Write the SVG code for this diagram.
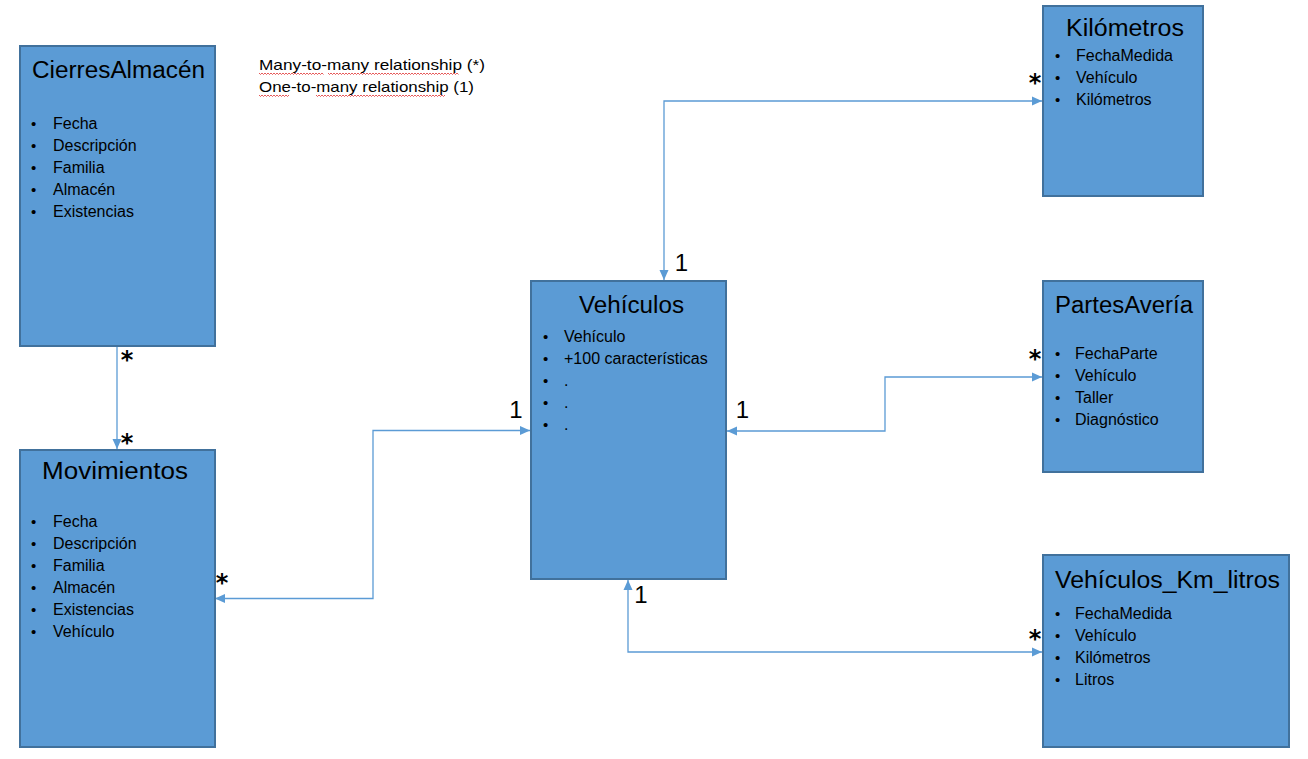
<svg xmlns="http://www.w3.org/2000/svg" width="1308" height="759" viewBox="0 0 1308 759">
<style>
.box{fill:#5B9BD5;stroke:#41719C;stroke-width:2}
.title{font-family:"Liberation Sans",Arial,sans-serif;font-size:23px;fill:#000}
.item{font-family:"Liberation Sans",Arial,sans-serif;font-size:16px;fill:#000}
.bul{font-family:"Liberation Sans",Arial,sans-serif;font-size:15px;fill:#000}
.leg{font-family:"Liberation Sans",Arial,sans-serif;font-size:15px;fill:#000}
.one{font-family:"Liberation Sans",Arial,sans-serif;font-size:24px;fill:#000}
.star{font-family:"DejaVu Sans",sans-serif;font-size:24px;font-weight:bold;fill:#000}
.conn{fill:none;stroke:#5B9BD5;stroke-width:1.3}
.wave{fill:none;stroke:#E03030;stroke-width:0.8}
</style>
<defs>
<marker id="arr" viewBox="0 0 10 10" refX="10" refY="5" markerWidth="10" markerHeight="10" markerUnits="userSpaceOnUse" orient="auto-start-reverse">
<path d="M0,0.5 L10,5 L0,9.5 Z" fill="#5B9BD5"/>
</marker>
</defs>

<g id="legend">
<text class="leg" x="259" y="70" textLength="226" lengthAdjust="spacingAndGlyphs">Many-to-many relationship (*)</text>
<text class="leg" x="259" y="92" textLength="215" lengthAdjust="spacingAndGlyphs">One-to-many relationship (1)</text>
<path class="wave" d="M259,73 l1.5,1.5 l1.5,-1.5 l1.5,1.5 l1.5,-1.5 l1.5,1.5 l1.5,-1.5 l1.5,1.5 l1.5,-1.5 l1.5,1.5 l1.5,-1.5 l1.5,1.5 l1.5,-1.5 l1.5,1.5 l1.5,-1.5 l1.5,1.5 l1.5,-1.5 l1.5,1.5 l1.5,-1.5 l1.5,1.5 l1.5,-1.5 l1.5,1.5 l1.5,-1.5 l1.5,1.5 l1.5,-1.5 l1.5,1.5 l1.5,-1.5 l1.5,1.5 l1.5,-1.5 l1.5,1.5 l1.5,-1.5 l1.5,1.5 l1.5,-1.5 l1.5,1.5 l1.5,-1.5 l1.5,1.5 l1.5,-1.5 l1.5,1.5 l1.5,-1.5 l1.5,1.5 l1.5,-1.5 l1.5,1.5 l1.5,-1.5 l1.5,1.5"/>
<path class="wave" d="M328,73 l1.5,1.5 l1.5,-1.5 l1.5,1.5 l1.5,-1.5 l1.5,1.5 l1.5,-1.5 l1.5,1.5 l1.5,-1.5 l1.5,1.5 l1.5,-1.5 l1.5,1.5 l1.5,-1.5 l1.5,1.5 l1.5,-1.5 l1.5,1.5 l1.5,-1.5 l1.5,1.5 l1.5,-1.5 l1.5,1.5 l1.5,-1.5 l1.5,1.5 l1.5,-1.5 l1.5,1.5 l1.5,-1.5 l1.5,1.5 l1.5,-1.5 l1.5,1.5 l1.5,-1.5 l1.5,1.5 l1.5,-1.5 l1.5,1.5 l1.5,-1.5 l1.5,1.5 l1.5,-1.5 l1.5,1.5 l1.5,-1.5 l1.5,1.5 l1.5,-1.5 l1.5,1.5 l1.5,-1.5 l1.5,1.5 l1.5,-1.5 l1.5,1.5 l1.5,-1.5 l1.5,1.5 l1.5,-1.5 l1.5,1.5 l1.5,-1.5 l1.5,1.5 l1.5,-1.5 l1.5,1.5 l1.5,-1.5 l1.5,1.5 l1.5,-1.5 l1.5,1.5 l1.5,-1.5 l1.5,1.5 l1.5,-1.5 l1.5,1.5 l1.5,-1.5 l1.5,1.5 l1.5,-1.5 l1.5,1.5 l1.5,-1.5 l1.5,1.5 l1.5,-1.5 l1.5,1.5 l1.5,-1.5 l1.5,1.5 l1.5,-1.5 l1.5,1.5 l1.5,-1.5 l1.5,1.5 l1.5,-1.5 l1.5,1.5 l1.5,-1.5 l1.5,1.5 l1.5,-1.5 l1.5,1.5 l1.5,-1.5 l1.5,1.5 l1.5,-1.5 l1.5,1.5 l1.5,-1.5 l1.5,1.5 l1.5,-1.5 l1.5,1.5"/>
<path class="wave" d="M259,95 l1.5,1.5 l1.5,-1.5 l1.5,1.5 l1.5,-1.5 l1.5,1.5 l1.5,-1.5 l1.5,1.5 l1.5,-1.5 l1.5,1.5 l1.5,-1.5 l1.5,1.5 l1.5,-1.5 l1.5,1.5 l1.5,-1.5 l1.5,1.5 l1.5,-1.5 l1.5,1.5 l1.5,-1.5 l1.5,1.5 l1.5,-1.5"/>
<path class="wave" d="M316,95 l1.5,1.5 l1.5,-1.5 l1.5,1.5 l1.5,-1.5 l1.5,1.5 l1.5,-1.5 l1.5,1.5 l1.5,-1.5 l1.5,1.5 l1.5,-1.5 l1.5,1.5 l1.5,-1.5 l1.5,1.5 l1.5,-1.5 l1.5,1.5 l1.5,-1.5 l1.5,1.5 l1.5,-1.5 l1.5,1.5 l1.5,-1.5 l1.5,1.5 l1.5,-1.5 l1.5,1.5 l1.5,-1.5 l1.5,1.5 l1.5,-1.5 l1.5,1.5 l1.5,-1.5 l1.5,1.5 l1.5,-1.5 l1.5,1.5 l1.5,-1.5 l1.5,1.5 l1.5,-1.5 l1.5,1.5 l1.5,-1.5 l1.5,1.5 l1.5,-1.5 l1.5,1.5 l1.5,-1.5 l1.5,1.5 l1.5,-1.5 l1.5,1.5 l1.5,-1.5 l1.5,1.5 l1.5,-1.5 l1.5,1.5 l1.5,-1.5 l1.5,1.5 l1.5,-1.5 l1.5,1.5 l1.5,-1.5 l1.5,1.5 l1.5,-1.5 l1.5,1.5 l1.5,-1.5 l1.5,1.5 l1.5,-1.5 l1.5,1.5 l1.5,-1.5 l1.5,1.5 l1.5,-1.5 l1.5,1.5 l1.5,-1.5 l1.5,1.5 l1.5,-1.5 l1.5,1.5 l1.5,-1.5 l1.5,1.5 l1.5,-1.5 l1.5,1.5 l1.5,-1.5 l1.5,1.5 l1.5,-1.5 l1.5,1.5 l1.5,-1.5 l1.5,1.5 l1.5,-1.5 l1.5,1.5 l1.5,-1.5 l1.5,1.5 l1.5,-1.5 l1.5,1.5 l1.5,-1.5 l1.5,1.5 l1.5,-1.5"/>
</g>

<g id="connectors">
<path class="conn" d="M117,346 V449" marker-end="url(#arr)"/>
<path class="conn" d="M215,598.5 H373 V430.5 H530" marker-start="url(#arr)" marker-end="url(#arr)"/>
<path class="conn" d="M664,280 V101 H1042" marker-start="url(#arr)" marker-end="url(#arr)"/>
<path class="conn" d="M727,431 H885 V377 H1042" marker-start="url(#arr)" marker-end="url(#arr)"/>
<path class="conn" d="M628,580 V652 H1042" marker-start="url(#arr)" marker-end="url(#arr)"/>
</g>

<g id="labels">
<text class="star" x="127" y="368" text-anchor="middle">*</text>
<text class="star" x="127" y="451" text-anchor="middle">*</text>
<text class="star" x="222" y="591" text-anchor="middle">*</text>
<text class="star" x="1035" y="91" text-anchor="middle">*</text>
<text class="star" x="1035" y="367" text-anchor="middle">*</text>
<text class="star" x="1035" y="647" text-anchor="middle">*</text>
<text class="one" x="681.5" y="271" text-anchor="middle">1</text>
<text class="one" x="516" y="418" text-anchor="middle">1</text>
<text class="one" x="742.5" y="418" text-anchor="middle">1</text>
<text class="one" x="641" y="603" text-anchor="middle">1</text>
</g>

<g id="CierresAlmacen">
<rect class="box" x="20" y="46" width="195" height="300"/>
<text class="title" x="32" y="78" textLength="173" lengthAdjust="spacingAndGlyphs">CierresAlmacén</text>
<text class="bul" x="31" y="129">•</text><text class="item" x="53" y="129">Fecha</text>
<text class="bul" x="31" y="151">•</text><text class="item" x="53" y="151">Descripción</text>
<text class="bul" x="31" y="173">•</text><text class="item" x="53" y="173">Familia</text>
<text class="bul" x="31" y="195">•</text><text class="item" x="53" y="195">Almacén</text>
<text class="bul" x="31" y="217">•</text><text class="item" x="53" y="217">Existencias</text>
</g>

<g id="Movimientos">
<rect class="box" x="20" y="450" width="195" height="297"/>
<text class="title" x="42" y="479" textLength="146" lengthAdjust="spacingAndGlyphs">Movimientos</text>
<text class="bul" x="31" y="527">•</text><text class="item" x="53" y="527">Fecha</text>
<text class="bul" x="31" y="549">•</text><text class="item" x="53" y="549">Descripción</text>
<text class="bul" x="31" y="571">•</text><text class="item" x="53" y="571">Familia</text>
<text class="bul" x="31" y="593">•</text><text class="item" x="53" y="593">Almacén</text>
<text class="bul" x="31" y="615">•</text><text class="item" x="53" y="615">Existencias</text>
<text class="bul" x="31" y="637">•</text><text class="item" x="53" y="637">Vehículo</text>
</g>

<g id="Vehiculos">
<rect class="box" x="531" y="281" width="195" height="298"/>
<text class="title" x="579" y="313" textLength="105" lengthAdjust="spacingAndGlyphs">Vehículos</text>
<text class="bul" x="543" y="342">•</text><text class="item" x="564" y="342">Vehículo</text>
<text class="bul" x="543" y="364">•</text><text class="item" x="564" y="364">+100 características</text>
<text class="bul" x="543" y="386">•</text><text class="item" x="564" y="386">.</text>
<text class="bul" x="543" y="408">•</text><text class="item" x="564" y="408">.</text>
<text class="bul" x="543" y="430">•</text><text class="item" x="564" y="430">.</text>
</g>

<g id="Kilometros">
<rect class="box" x="1043" y="6" width="160" height="190"/>
<text class="title" x="1066" y="36" textLength="118" lengthAdjust="spacingAndGlyphs">Kilómetros</text>
<text class="bul" x="1055" y="61">•</text><text class="item" x="1076" y="61">FechaMedida</text>
<text class="bul" x="1055" y="83">•</text><text class="item" x="1076" y="83">Vehículo</text>
<text class="bul" x="1055" y="105">•</text><text class="item" x="1076" y="105">Kilómetros</text>
</g>

<g id="PartesAveria">
<rect class="box" x="1043" y="281" width="160" height="191"/>
<text class="title" x="1055" y="313" textLength="138" lengthAdjust="spacingAndGlyphs">PartesAvería</text>
<text class="bul" x="1055" y="359">•</text><text class="item" x="1075" y="359">FechaParte</text>
<text class="bul" x="1055" y="381">•</text><text class="item" x="1075" y="381">Vehículo</text>
<text class="bul" x="1055" y="403">•</text><text class="item" x="1075" y="403">Taller</text>
<text class="bul" x="1055" y="425">•</text><text class="item" x="1075" y="425">Diagnóstico</text>
</g>

<g id="Vehiculos_Km_litros">
<rect class="box" x="1043" y="555" width="246" height="192"/>
<text class="title" x="1055" y="588" textLength="225" lengthAdjust="spacingAndGlyphs">Vehículos_Km_litros</text>
<text class="bul" x="1055" y="619">•</text><text class="item" x="1075" y="619">FechaMedida</text>
<text class="bul" x="1055" y="641">•</text><text class="item" x="1075" y="641">Vehículo</text>
<text class="bul" x="1055" y="663">•</text><text class="item" x="1075" y="663">Kilómetros</text>
<text class="bul" x="1055" y="685">•</text><text class="item" x="1075" y="685">Litros</text>
</g>
</svg>
